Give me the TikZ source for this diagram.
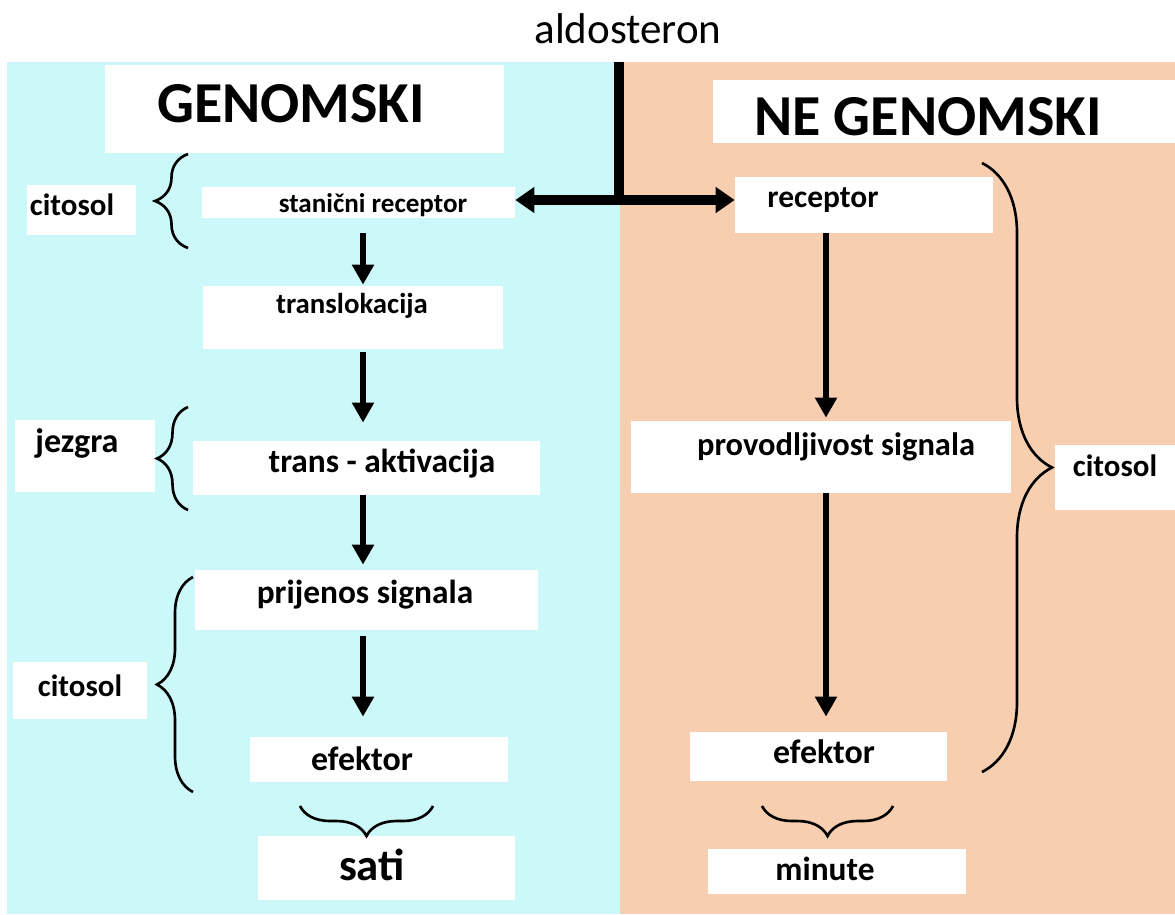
\documentclass[tikz,border=0pt]{standalone}
\usepackage{fontspec}
\setmainfont{Carlito}
\usetikzlibrary{arrows.meta,fit,decorations.pathreplacing}
\definecolor{genbg}{RGB}{205,248,250}
\definecolor{negbg}{RGB}{248,206,176}
\tikzset{
  box/.style={fill=white, inner sep=0pt},
  txt/.style={font=\bfseries\fontsize{#1}{#1}\selectfont, inner sep=0pt, anchor=base},
  arr/.style={line width=3.4pt, -{Triangle[length=0.4cm,width=0.42cm]}},
  brc/.style={decorate, decoration={brace, amplitude=#1}, line width=1.5pt}
}
\begin{document}
\begin{tikzpicture}[x=0.02cm, y=-0.02cm]
    \useasboundingbox (0,0) rectangle (1175,914);
    % Sfondi
    \fill[genbg] (7,62) rectangle (620,914);
    \fill[negbg] (620,62) rectangle (1175,914);

    % Riquadri bianchi
    \node[box, fit={(105,65) (504,153)}] (gen) {};
    \node[box, fit={(713,80) (1175,143)}] (neg) {};
    \node[box, fit={(27,185) (136,235)}] (citA) {};
    \node[box, fit={(202,187) (515,218)}] (stan) {};
    \node[box, fit={(203,286) (503,349)}] (transl) {};
    \node[box, fit={(15,420) (155,492)}] (jez) {};
    \node[box, fit={(193,441) (540,495)}] (trakt) {};
    \node[box, fit={(195,570) (538,630)}] (prij) {};
    \node[box, fit={(13,662) (147,719)}] (citB) {};
    \node[box, fit={(250,737) (508,782)}] (efL) {};
    \node[box, fit={(258,836) (515,900)}] (sati) {};
    \node[box, fit={(735,177) (993,233)}] (rec) {};
    \node[box, fit={(631,421) (1011,493)}] (prov) {};
    \node[box, fit={(1055,445) (1175,510)}] (citC) {};
    \node[box, fit={(690,732) (947,781)}] (efR) {};
    \node[box, fit={(708,849) (966,894)}] (min) {};

    % Testi
    \node[font=\fontsize{24.5}{24.5}\selectfont, inner sep=0pt, anchor=base] (ald) at (628,43) {aldosteron};
    \node[txt=33] (genT) at (291,122) {GENOMSKI};
    \node[txt=33] (negT) at (928,135) {NE GENOMSKI};
    \node[txt=17.6] (citAT) at (72,215) {citosol};
    \node[txt=15.4] (stanT) at (373,212) {stanični receptor};
    \node[txt=16.4] (translT) at (352,313) {translokacija};
    \node[txt=19.4] (jezT) at (77,452) {jezgra};
    \node[txt=19] (traktT) at (382,472) {trans - aktivacija};
    \node[txt=19] (prijT) at (365,603) {prijenos signala};
    \node[txt=17.6] (citBT) at (80,696) {citosol};
    \node[txt=19.3] (efLT) at (362,770) {efektor};
    \node[txt=25.5] (satiT) at (372,880) {sati};
    \node[txt=17.9] (recT) at (823,207) {receptor};
    \node[txt=18.5] (provT) at (836,455) {provodljivost signala};
    \node[txt=17.6] (citCT) at (1115,476) {citosol};
    \node[txt=19.3] (efRT) at (824,763) {efektor};
    \node[txt=19] (minT) at (825,880) {minute};

    % Aldosteron: linea e doppia freccia
    \coordinate (top) at (619,62);
    \coordinate (junc) at (619,200);
    \draw[line width=5.69pt] (top) -- ([yshift=-0.1cm]junc);
    \draw[line width=5.69pt, {Triangle[length=0.38cm,width=0.5cm]}-{Triangle[length=0.38cm,width=0.5cm]}]
        (stan.east |- junc) -- (rec.west |- junc);

    % Frecce
    \coordinate (axL) at (363,0);
    \coordinate (axR) at (826,0);
    \draw[arr, shorten <=0.3cm, shorten >=0.02cm] (stan.south -| axL) -- (transl.north -| axL);
    \draw[arr, shorten <=0.06cm, shorten >=0.36cm] (transl.south -| axL) -- (trakt.north -| axL);
    \draw[arr, shorten >=0.1cm] (trakt.south -| axL) -- (prij.north -| axL);
    \draw[arr, shorten <=0.12cm, shorten >=0.4cm] (prij.south -| axL) -- (efL.north -| axL);
    \draw[arr, shorten >=0.06cm] (rec.south -| axR) -- (prov.north -| axR);
    \draw[arr, shorten >=0.3cm] (prov.south -| axR) -- (efR.north -| axR);

    % Graffe
    \draw[brc=0.66cm] (188,248) -- (188,154);
    \draw[brc=0.62cm] (188,510) -- (188,407);
    \draw[brc=0.72cm] (193,792) -- (193,577);
    \draw[brc=1.4cm] (982,163) -- (982,772);
    \draw[brc=0.6cm] (433,806) -- (300,806);
    \draw[brc=0.6cm] (893,806) -- (762,806);
\end{tikzpicture}
\end{document}
